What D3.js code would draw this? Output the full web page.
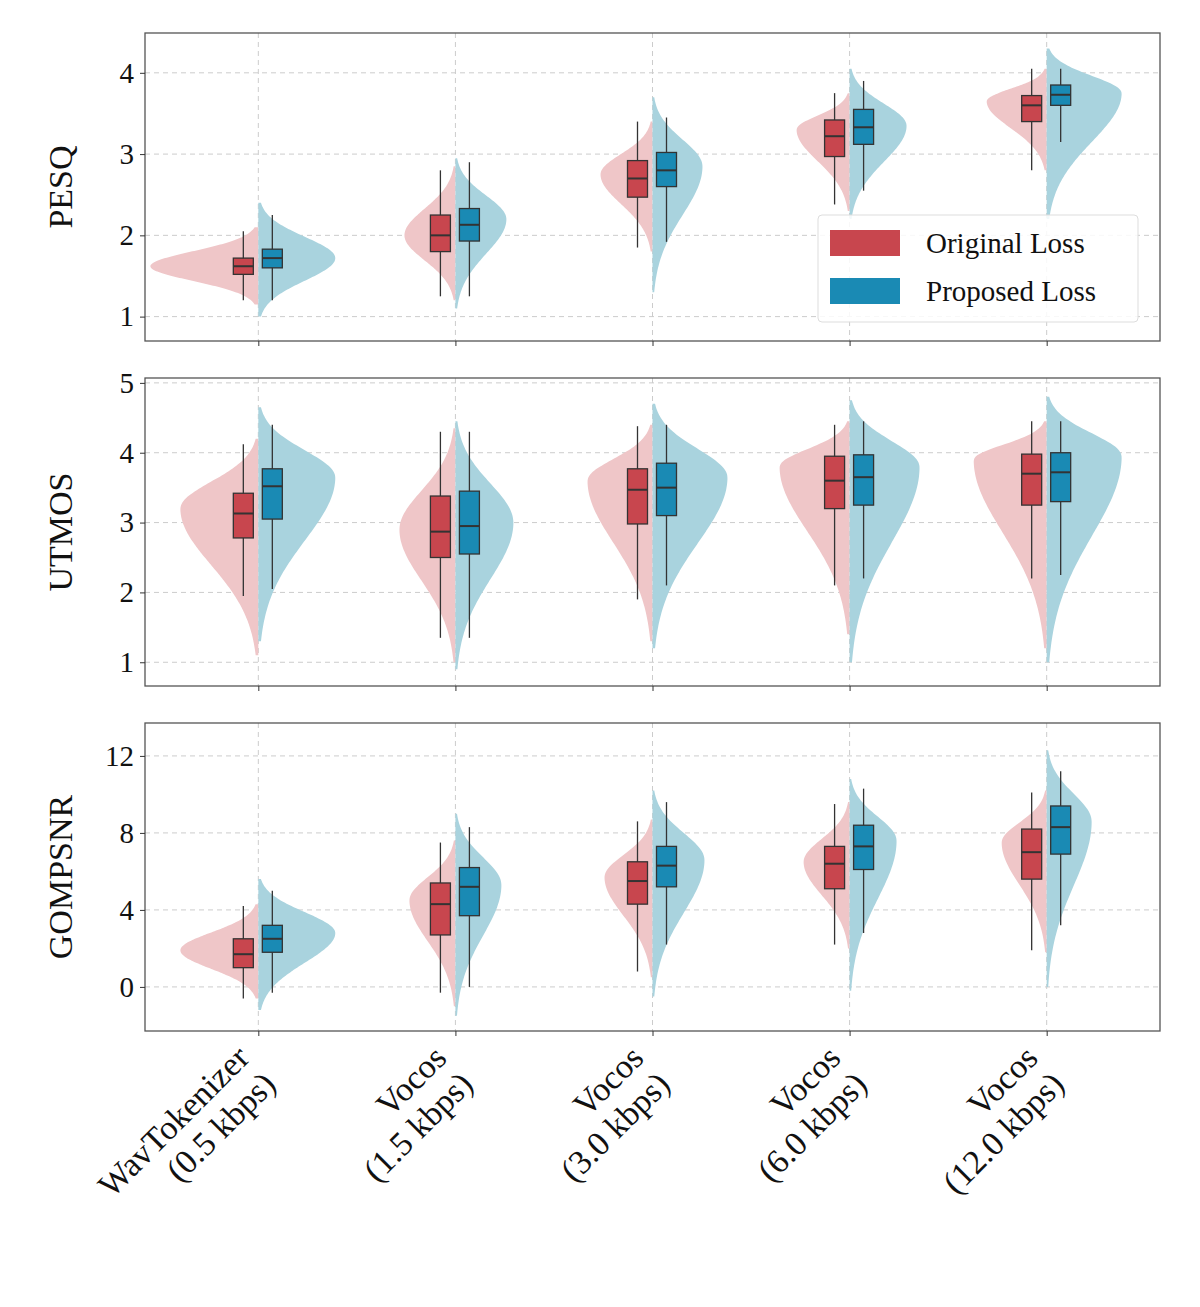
<!DOCTYPE html>
<html><head><meta charset="utf-8">
<script src="https://cdn.jsdelivr.net/npm/d3@7"></script>
<style>body{margin:0;background:#fff}svg{font-family:"Liberation Serif","DejaVu Serif",serif}</style>
</head><body><svg id="chart" width="1200" height="1307"></svg>
<script>
const categories = ["WavTokenizer\n(0.5 kbps)", "Vocos\n(1.5 kbps)", "Vocos\n(3.0 kbps)", "Vocos\n(6.0 kbps)", "Vocos\n(12.0 kbps)"];
const metrics = ["PESQ", "UTMOS", "GOMPSNR"];
const yDomains = [[0.70, 4.49], [0.66, 5.07], [-2.29, 13.71]];
const yTicks = [[1, 2, 3, 4], [1, 2, 3, 4, 5], [0, 4, 8, 12]];

// box stats per category: [whiskerLow, q1, median, q3, whiskerHigh]
// violin per category: [low, mode, high, peakDensity]
const pesqOrigBox = [[1.2,1.52,1.62,1.72,2.05],[1.25,1.8,2.0,2.25,2.8],[1.85,2.47,2.7,2.92,3.4],[2.38,2.97,3.22,3.42,3.75],[2.8,3.4,3.6,3.72,4.05]];
const pesqPropBox = [[1.2,1.6,1.72,1.83,2.25],[1.25,1.93,2.13,2.33,2.9],[1.92,2.6,2.8,3.02,3.45],[2.55,3.12,3.33,3.55,3.9],[3.15,3.6,3.73,3.85,4.05]];
const pesqOrigViolin = [[1.15,1.62,2.1,1.08],[1.2,2.0,2.85,0.51],[1.8,2.75,3.4,0.52],[2.3,3.3,3.75,0.53],[2.8,3.65,4.05,0.6]];
const pesqPropViolin = [[1.0,1.72,2.4,0.77],[1.1,2.2,2.95,0.51],[1.3,2.85,3.7,0.5],[2.2,3.35,4.05,0.57],[2.2,3.75,4.3,0.75]];

const utmosOrigBox = [[1.95,2.78,3.13,3.42,4.12],[1.35,2.5,2.87,3.38,4.3],[1.9,2.98,3.47,3.77,4.38],[2.1,3.2,3.6,3.95,4.4],[2.2,3.25,3.7,3.98,4.45]];
const utmosPropBox = [[2.05,3.05,3.52,3.77,4.4],[1.35,2.55,2.95,3.45,4.3],[2.1,3.1,3.5,3.85,4.4],[2.2,3.25,3.65,3.97,4.45],[2.25,3.3,3.72,4.0,4.45]];
const utmosOrigViolin = [[1.1,3.2,4.2,0.78],[1.0,2.9,4.35,0.56],[1.3,3.6,4.4,0.65],[1.4,3.8,4.45,0.7],[1.2,3.9,4.45,0.73]];
const utmosPropViolin = [[1.3,3.65,4.65,0.77],[0.9,3.0,4.45,0.58],[1.2,3.65,4.7,0.75],[1.0,3.8,4.75,0.7],[1.0,3.95,4.8,0.75]];

const gompOrigBox = [[-0.6,1.0,1.7,2.5,4.2],[-0.3,2.7,4.3,5.4,7.5],[0.8,4.3,5.5,6.5,8.6],[2.2,5.1,6.4,7.3,9.5],[1.9,5.6,7.0,8.2,10.1]];
const gompPropBox = [[-0.3,1.8,2.5,3.2,5.0],[0.0,3.7,5.2,6.2,8.3],[2.2,5.2,6.3,7.3,9.6],[2.8,6.1,7.3,8.4,10.3],[3.2,6.9,8.3,9.4,11.2]];
const gompOrigViolin = [[-0.6,1.9,4.3,0.78],[-1.0,4.5,7.6,0.46],[0.5,5.7,8.7,0.48],[2.0,6.5,9.6,0.46],[1.8,7.5,10.2,0.45]];
const gompPropViolin = [[-1.2,2.8,5.6,0.77],[-1.5,5.3,9.0,0.46],[-0.5,6.6,10.2,0.52],[-0.2,7.6,10.8,0.47],[0.0,8.6,12.3,0.45]];

const boxes = [[pesqOrigBox, pesqPropBox], [utmosOrigBox, utmosPropBox], [gompOrigBox, gompPropBox]];
const violins = [[pesqOrigViolin, pesqPropViolin], [utmosOrigViolin, utmosPropViolin], [gompOrigViolin, gompPropViolin]];
const seriesNames = ["Original Loss", "Proposed Loss"];
const boxColors = ["#c8464e", "#1a8ab4"];
const violinColors = ["#efc6c8", "#a9d3de"];

const svg = d3.select("#chart");
const left = 145, right = 1160;
const panelTops = [33, 378, 723], panelH = 308;
const x = d3.scaleLinear().domain([-0.575, 4.575]).range([left, right]);
const densityW = d3.scaleLinear().domain([0, 1]).range([0, 100]);

metrics.forEach((m, mi) => {
    const g = svg.append("g");
    const y = d3.scaleLinear().domain(yDomains[mi]).range([panelTops[mi] + panelH, panelTops[mi]]);

    // GRID
    g.selectAll(".hg").data(yTicks[mi]).join("line")
        .attr("x1", left).attr("x2", right).attr("y1", d => y(d)).attr("y2", d => y(d))
        .attr("stroke", "#ccc").attr("stroke-dasharray", "5,4").attr("stroke-width", 1);
    g.selectAll(".vg").data(categories).join("line")
        .attr("x1", (d, i) => x(i)).attr("x2", (d, i) => x(i))
        .attr("y1", panelTops[mi]).attr("y2", panelTops[mi] + panelH)
        .attr("stroke", "#ccc").attr("stroke-dasharray", "5,4").attr("stroke-width", 1);

    // SPLIT VIOLINS
    [0, 1].forEach(s => {
        violins[mi][s].forEach((v, i) => {
            const [lo, mode, hi, peak] = v;
            const sLo = (mode - lo) / 2.6, sHi = (hi - mode) / 2.6;
            const ys = d3.range(0, 81).map(k => lo + (hi - lo) * k / 80);
            const pts = ys.map(val => {
                const d = val < mode ? (val - mode) / sLo : (val - mode) / sHi;
                return [val, peak * Math.exp(-0.5 * d * d)];
            });
            const dir = s === 0 ? -1 : 1;
            const area = d3.area().curve(d3.curveBasis)
                .y(p => y(p[0]))
                .x0(x(i))
                .x1(p => x(i) + dir * densityW(p[1]));
            g.append("path").datum(pts).attr("d", area).attr("fill", violinColors[s]);
        });
    });

    // BOXES
    [0, 1].forEach(s => {
        boxes[mi][s].forEach((b, i) => {
            const cx = x(i) + (s === 0 ? -15 : 14), bw = 20;
            const bg = g.append("g").attr("stroke", "#333").attr("stroke-width", 1.3);
            bg.append("line").attr("x1", cx).attr("x2", cx).attr("y1", y(b[0])).attr("y2", y(b[4]));
            bg.append("rect").attr("x", cx - bw / 2).attr("width", bw)
                .attr("y", y(b[3])).attr("height", y(b[1]) - y(b[3])).attr("fill", boxColors[s]);
            bg.append("line").attr("x1", cx - bw / 2).attr("x2", cx + bw / 2)
                .attr("y1", y(b[2])).attr("y2", y(b[2])).attr("stroke-width", 2);
        });
    });

    // FRAME & AXES
    g.append("rect").attr("x", left).attr("y", panelTops[mi]).attr("width", right - left).attr("height", panelH)
        .attr("fill", "none").attr("stroke", "#555").attr("stroke-width", 1.3);
    const ya = g.append("g").attr("transform", `translate(${left},0)`)
        .call(d3.axisLeft(y).tickValues(yTicks[mi]).tickFormat(d3.format("d")).tickSize(5).tickPadding(6));
    ya.select(".domain").remove();
    ya.selectAll("text").attr("font-size", 29).attr("fill", "#111").attr("font-family", "Liberation Serif");
    ya.selectAll("line").attr("stroke", "#333");
    const xa = g.append("g").attr("transform", `translate(0,${panelTops[mi] + panelH})`)
        .call(d3.axisBottom(x).tickValues(d3.range(5)).tickSize(5).tickFormat(""));
    xa.select(".domain").remove();
    xa.selectAll("line").attr("stroke", "#333");

    g.append("text").attr("transform", `translate(72,${panelTops[mi] + panelH / 2}) rotate(-90)`)
        .attr("text-anchor", "middle").attr("font-size", 34).attr("fill", "#111").text(m);
});

// CATEGORY LABELS
const bottom = panelTops[2] + panelH;
categories.forEach((c, i) => {
    const t = svg.append("text").attr("text-anchor", "end").attr("font-size", 34).attr("fill", "#111")
        .attr("transform", `translate(${x(i) - 24},${bottom + 12}) rotate(-45)`);
    c.split("\n").forEach((line, k) => {
        t.append("tspan").attr("x", 0).attr("dy", k === 0 ? "0.7em" : "1.1em").text(line);
    });
});

// LEGEND
const lg = svg.append("g").attr("transform", "translate(818,215)");
lg.append("rect").attr("width", 320).attr("height", 107).attr("rx", 4)
    .attr("fill", "rgba(255,255,255,0.85)").attr("stroke", "#ddd");
seriesNames.forEach((n, k) => {
    lg.append("rect").attr("x", 12).attr("y", 15 + k * 48).attr("width", 70).attr("height", 26).attr("fill", boxColors[k]);
    lg.append("text").attr("x", 108).attr("y", 38 + k * 48).attr("font-size", 29).attr("fill", "#111").text(n);
});
</script></body></html>
